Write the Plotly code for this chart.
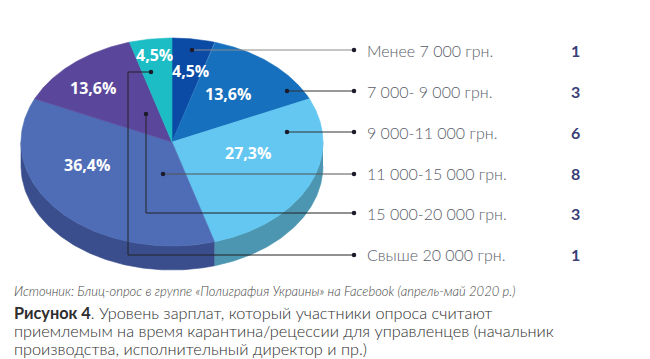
import numpy as np
import plotly.graph_objects as go

# ---- data ----
categories = ["Менее 7 000 грн.", "7 000- 9 000 грн.", "9 000-11 000 грн.",
              "11 000-15 000 грн.", "15 000-20 000 грн.", "Свыше 20 000 грн."]
counts = [1, 3, 6, 8, 3, 1]
top_colors = ["#0b4ba5", "#1670bd", "#63c7f1", "#4e6db6", "#5a479b", "#1cbdc4"]
side_colors = ["#083a80", "#105592", "#4c96b1", "#3a4e8d", "#43356f", "#148a8f"]

source_text = "Источник: Блиц-опрос в группе «Полиграфия Украины» на Facebook (апрель-май 2020 р.)"
caption_lines = ["<b>Рисунок 4</b>. Уровень зарплат, который участники опроса считают",
                 "приемлемым на время карантина/рецессии для управленцев (начальник",
                 "производства, исполнительный директор и пр.)"]

# ---- geometry (pixel space of the window; page body has an 8px margin) ----
W, H = 650, 359
OFF = 8
cx, cy, a, b, depth = 172, 142, 151, 104, 24

total = sum(counts)
fracs = [c / total for c in counts]
cum = np.concatenate([[0], np.cumsum(fracs)]) * 360.0


def pt(theta_deg, dy=0.0):
    t = np.radians(theta_deg)
    return cx + a * np.sin(t), cy - b * np.cos(t) + dy


fig = go.Figure()

# side walls (front half only: 90..270 deg)
for i in range(len(counts)):
    lo, hi = max(cum[i], 90), min(cum[i + 1], 270)
    if hi <= lo:
        continue
    th = np.linspace(lo, hi, 120)
    xt, yt = pt(th)
    xb, yb = pt(th[::-1], depth)
    fig.add_trace(go.Scatter(x=np.concatenate([xt, xb]), y=np.concatenate([yt, yb]),
                             fill="toself", fillcolor=side_colors[i], mode="lines",
                             line=dict(color=side_colors[i], width=0.6),
                             hoverinfo="skip", showlegend=False))

# top face slices
for i in range(len(counts)):
    th = np.linspace(cum[i], cum[i + 1], 200)
    xs, ys = pt(th)
    fig.add_trace(go.Scatter(x=np.concatenate([[cx], xs, [cx]]),
                             y=np.concatenate([[cy], ys, [cy]]),
                             fill="toself", fillcolor=top_colors[i], mode="lines",
                             line=dict(color=top_colors[i], width=0.6),
                             hoverinfo="skip", showlegend=False,
                             name=categories[i]))

# percentage labels
label_pos = [(190, 71), (228, 94), (248, 153), (87, 165), (93, 88), (154, 55)]
for i, (lx, ly) in enumerate(label_pos):
    pct = f"{fracs[i] * 100:.1f}%".replace(".", ",")
    fig.add_annotation(x=lx, y=ly, text=f"<b>{pct}</b>", showarrow=False,
                       font=dict(family="Open Sans", size=16, color="white"))

# leader lines
row_y = [50, 91, 132, 173, 213, 254]
end_x = 354
leaders = [
    [(192, 50), (end_x, 50)],
    [(287, 91), (end_x, 91)],
    [(287, 132), (end_x, 132)],
    [(163, 174), (end_x, 174)],
    [(146, 114), (146, 213), (end_x, 213)],
    [(151, 72), (128, 72), (128, 255), (end_x, 255)],
]
line_cols = ["#8a8a8a", "#333333", "#333333", "#555555", "#222222", "#222222"]
for k, path in enumerate(leaders):
    xs = [p[0] for p in path]
    ys = [p[1] for p in path]
    fig.add_trace(go.Scatter(x=xs, y=ys, mode="lines", line=dict(color=line_cols[k], width=1),
                             hoverinfo="skip", showlegend=False))
    fig.add_trace(go.Scatter(x=[xs[0], xs[-1]], y=[ys[0], ys[-1]], mode="markers",
                             marker=dict(size=4.5, color="#1b1b2b"),
                             hoverinfo="skip", showlegend=False))

# legend text + counts
for i, cat in enumerate(categories):
    fig.add_annotation(x=365, y=row_y[i], text=cat, showarrow=False, xanchor="left",
                       font=dict(family="Lato", size=16, color="#585c68", weight=300))
    fig.add_annotation(x=575, y=row_y[i], text=f"<b>{counts[i]}</b>", showarrow=False,
                       font=dict(family="Lato", size=16, color="#3b3f78"))

# source and caption
fig.add_annotation(x=12, y=291, text=f"<i>{source_text}</i>", showarrow=False, xanchor="left",
                   font=dict(family="Lato", size=13, color="#444444", weight=300))
for j, line in enumerate(caption_lines):
    fig.add_annotation(x=12, y=312 + 18 * j, text=line, showarrow=False, xanchor="left",
                       font=dict(family="Lato", size=16.3, color="#2e2e2e", weight=300))

fig.update_layout(
    width=W - OFF, height=H - OFF, margin=dict(l=0, r=0, t=0, b=0),
    paper_bgcolor="white", plot_bgcolor="white",
    xaxis=dict(range=[OFF, W], visible=False, fixedrange=True),
    yaxis=dict(range=[H, OFF], visible=False, fixedrange=True),
    showlegend=False,
)
fig.write_html("out.html", config={"displayModeBar": False})
